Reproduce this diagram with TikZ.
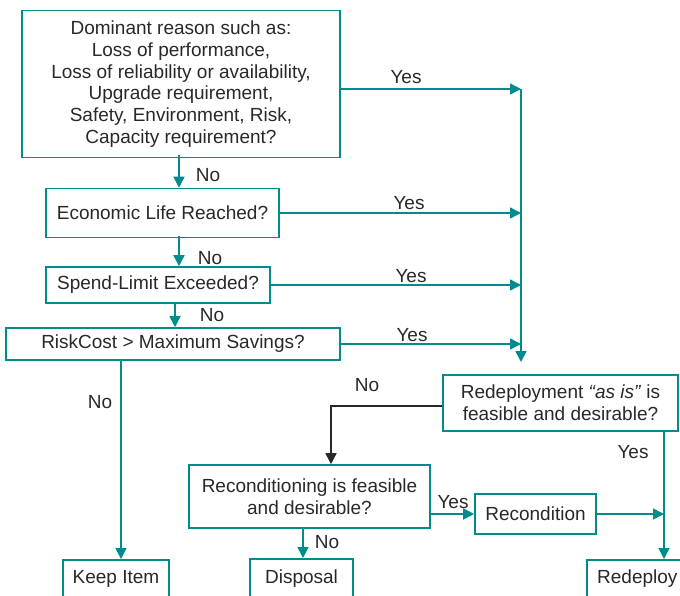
\documentclass[tikz,border=0pt]{standalone}
\usepackage{fontspec}
\setmainfont{Liberation Sans}
\usetikzlibrary{arrows.meta}
\definecolor{teal}{RGB}{0,140,140}
\definecolor{txt}{RGB}{40,40,40}
\begin{document}
\begin{tikzpicture}[x=1pt,y=-1pt,
  every node/.style={text=txt,font=\fontsize{19}{21.8}\selectfont},
  box/.style={draw=teal,line width=1.6pt,align=center,inner sep=0pt,rectangle},
  arr/.style={draw=teal,line width=1.6pt,-{Triangle[length=11pt,width=11pt]}},
  barr/.style={draw=txt,line width=1.6pt,-{Triangle[length=11pt,width=11pt]}},
  lbl/.style={inner sep=0pt}]
\useasboundingbox (0,0) rectangle (680,596);
\clip (0,0) rectangle (680,596);
% boxes
\node[box,minimum width=318,minimum height=147] (b1) at (181,84) {Dominant reason such as:\\Loss of performance,\\Loss of reliability or availability,\\Upgrade requirement,\\Safety, Environment, Risk,\\Capacity requirement?};
\node[box,minimum width=233,minimum height=49] (b2) at (162.5,213) {Economic Life Reached?};
\node[box,minimum width=224,minimum height=36] (b3) at (158,285) {Spend-Limit Exceeded?};
\node[box,minimum width=334,minimum height=32] (b4) at (173,344) {RiskCost > Maximum Savings?};
\node[box,minimum width=235,minimum height=56] (redep) at (560.5,403) {Redeployment \textit{“as is”} is\\feasible and desirable?};
\node[box,minimum width=241,minimum height=63] (recf) at (309.5,496.5) {Reconditioning is feasible\\and desirable?};
\node[box,minimum width=121,minimum height=40] (recon) at (535.5,514) {Recondition};
\node[box,minimum width=106,minimum height=62,anchor=north] (keep) at (116,559) {};
\node[box,minimum width=103,minimum height=62,anchor=north] (disp) at (301.5,558) {};
\node[box,minimum width=134,minimum height=62,anchor=north west] (rdp) at (586,559) {};
\node[lbl] (keept) at (116,579) {Keep Item};
\node[lbl] (dispt) at (301.5,579) {Disposal};
\node[lbl,anchor=west] (rdpt) at (597,579) {Redeploy};
% helper coordinates
\coordinate (c1) at (179,0);
\coordinate (c2) at (175,0);
\coordinate (cv) at (521,0);
\coordinate (ck) at (121,0);
\coordinate (cd) at (303,0);
\coordinate (cr) at (664,0);
\coordinate (cb) at (331,0);
\coordinate (y1) at (0,89);
\coordinate (yt) at (0,362);
\coordinate (yb) at (0,406);
% connectors
\draw[arr] ([yshift=3pt]b1.south -| c1) -- (b2.north -| c1);
\draw[arr] ([yshift=2pt]b2.south -| c1) -- (b3.north -| c1);
\draw[arr] (b3.south -| c2) -- (b4.north -| c2);
\draw[arr] (b1.east |- y1) -- (cv |- y1);
\draw[arr] (b2.east) -- (cv |- b2.east);
\draw[arr] (b3.east) -- (cv |- b3.east);
\draw[arr] (b4.east) -- (cv |- b4.east);
\draw[arr] (cv |- y1) -- (cv |- yt);
\draw[arr] (b4.south -| ck) -- (keep.north -| ck);
\draw[barr] (redep.west |- yb) -- (cb |- yb) -- (recf.north -| cb);
\draw[arr] (recf.south -| cd) -- (disp.north -| cd);
\draw[arr] (recf.east |- recon.west) -- (recon.west);
\draw[arr] (recon.east) -- (cr |- recon.east);
\draw[arr] (redep.south -| cr) -- (rdp.north -| cr);
% labels
\node[lbl] (n1) at (208,175) {No};
\node[lbl] (n2) at (210,258) {No};
\node[lbl] (n3) at (212,315) {No};
\node[lbl] (n4) at (100,402) {No};
\node[lbl] (n5) at (367,385) {No};
\node[lbl] (n6) at (327,542) {No};
\node[lbl] (y1l) at (406,77) {Yes};
\node[lbl] (y2l) at (409,203) {Yes};
\node[lbl] (y3l) at (411,276) {Yes};
\node[lbl] (y4l) at (412,335) {Yes};
\node[lbl] (y5l) at (453,502) {Yes};
\node[lbl] (y6l) at (633,452) {Yes};
\end{tikzpicture}
\end{document}
